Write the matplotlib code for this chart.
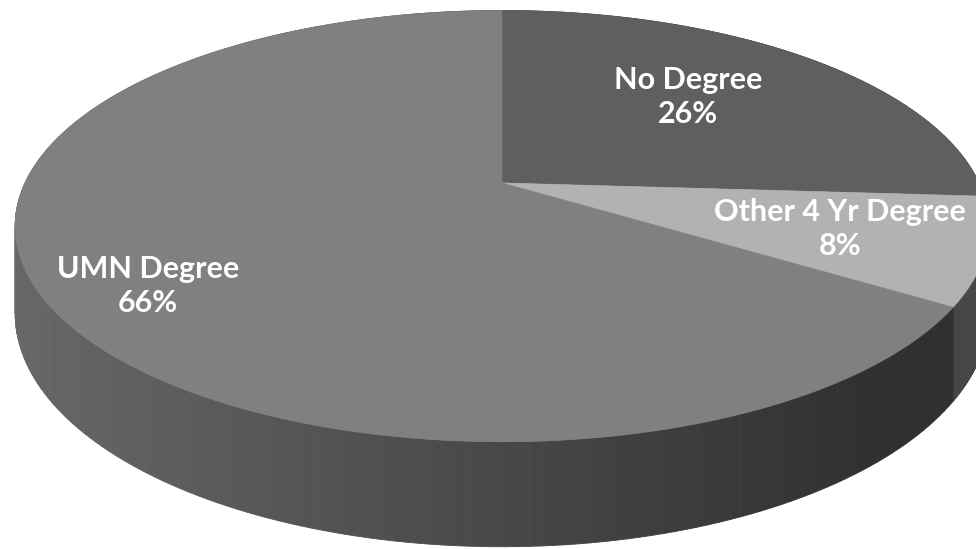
"""3D-style pie: degree status shares, drawn with a simple perspective projection."""
import numpy as np
import matplotlib
matplotlib.use("Agg")
import matplotlib.pyplot as plt
from matplotlib.collections import PolyCollection
from matplotlib.patches import Polygon

labels = ["No Degree", "Other 4 Yr Degree", "UMN Degree"]
shares = [26, 8, 66]

top_colors = ["#5f5f5f", "#b2b2b2", "#808080"]
label_pos = [(688, 97), (840, 229), (148, 286)]

# projection of the pie (pixel units)
CX, CY = 502, 183
RX, RY = 477, 207
K = 0.2          # perspective strength (far edge looks smaller)
DEPTH = 84       # wall height at unit scale


def proj(a, r=1.0, z=0.0):
    u = r * np.sin(a)
    v = r * np.cos(a)
    s = 1.0 / (1.0 + K * v)
    x = CX + RX * u * s
    y = CY - RY * v * s + DEPTH * z * s
    return x, y


def wall_gray(x, i):
    if labels[i] == "Other 4 Yr Degree":
        return "#474747"
    g = 0.40 - 0.025 * (x - 30) / 100.0
    g = min(max(g, 0.19), 0.42)
    return (g, g, g)


fig = plt.figure(figsize=(9.76, 5.49), dpi=100)
ax = fig.add_axes([0, 0, 1, 1])
ax.set_xlim(0, 976)
ax.set_ylim(549, 0)
ax.axis("off")

total = float(sum(shares))
bounds = np.concatenate([[0.0], np.cumsum(shares) / total * 2 * np.pi])

# outer walls first
for i in range(len(shares)):
    a = np.linspace(bounds[i], bounds[i + 1], 200)
    quads, cols = [], []
    for a0, a1 in zip(a[:-1], a[1:]):
        x0, y0 = proj(a0)
        x1, y1 = proj(a1)
        x0b, y0b = proj(a0, z=1.0)
        x1b, y1b = proj(a1, z=1.0)
        quads.append([(x0, y0), (x1, y1), (x1b, y1b), (x0b, y0b)])
        cols.append(wall_gray((x0 + x1) / 2, i))
    ax.add_collection(PolyCollection(quads, facecolors=cols, edgecolors=cols, linewidths=0.6))

# top faces
for i in range(len(shares)):
    a = np.linspace(bounds[i], bounds[i + 1], 300)
    xs, ys = proj(a)
    pts = np.column_stack([np.r_[CX, xs], np.r_[CY, ys]])
    ax.add_patch(Polygon(pts, closed=True, facecolor=top_colors[i],
                         edgecolor=top_colors[i], linewidth=0.5))

for lab, val, (tx, ty) in zip(labels, shares, label_pos):
    ax.text(tx, ty, f"{lab}\n{val}%", ha="center", va="center", color="white",
            fontsize=22, fontweight="bold", family="Lato", linespacing=1.22)

fig.savefig("out.png", dpi=100)
